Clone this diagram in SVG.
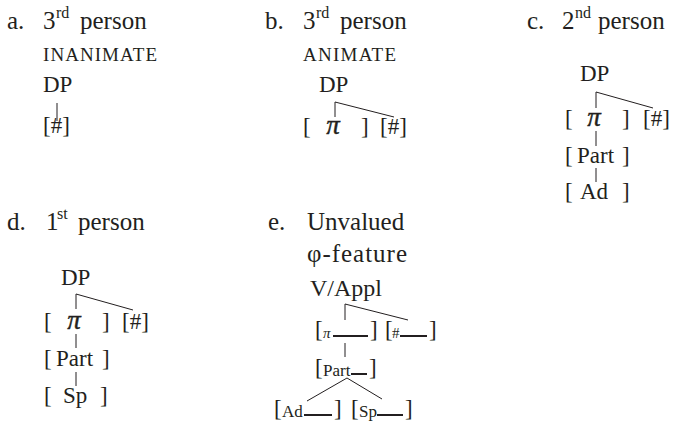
<svg xmlns="http://www.w3.org/2000/svg" width="675" height="423" viewBox="0 0 675 423">
<style>
text{font-family:"Liberation Serif","Times New Roman",serif;fill:#231f20;font-size:23px}
.h{font-size:25px}
.sup{font-size:16px}
.sc{font-size:19px}
.sm{font-size:17px}
.xs{font-size:15px}
.pi{font-style:italic}
.bp{font-style:italic;font-size:27px;stroke:#231f20;stroke-width:0.4}
.ln{stroke:#231f20;stroke-width:1;fill:none}
.bar{stroke:#231f20;stroke-width:2;fill:none}
</style>
<rect width="675" height="423" fill="#fff"/>
<g id="connectors">
<path class="ln" d="M57 103V121"/>
<path class="ln" d="M335 102V117M335 102L394 117"/>
<path class="ln" d="M596 92V108M596 92L653 108M596 131V146M596 168V182"/>
<path class="ln" d="M76 294V309M76 294L133 310M76 334V348M76 372V386"/>
<path class="ln" d="M345 304V320M345 304L408 320M345 343V357M347 378L307 401M347 378L382 399"/>
</g>
<g id="a-title"><text class="h" x="7" y="29">a.</text><text class="h" x="43" y="29">3</text><text class="sup" x="56" y="18">rd</text><text class="h" x="80" y="29">person</text></g>
<g id="a-inanimate"><text class="sc" x="43" y="61" textLength="114">INANIMATE</text></g>
<g id="a-dp"><text x="43" y="92">DP</text></g>
<g id="a-num"><text x="43" y="133">[#]</text></g>

<g id="b-title"><text class="h" x="265" y="29">b.</text><text class="h" x="303" y="29">3</text><text class="sup" x="316" y="18">rd</text><text class="h" x="340" y="29">person</text></g>
<g id="b-animate"><text class="sc" x="303" y="61" textLength="93">ANIMATE</text></g>
<g id="b-dp"><text x="319" y="92">DP</text></g>
<g id="b-pi"><text x="303" y="134">[</text><text class="bp" x="333" y="134" text-anchor="middle">π</text><text x="361" y="134">]</text></g>
<g id="b-num"><text x="380" y="134">[#]</text></g>

<g id="c-title"><text class="h" x="527" y="29">c.</text><text class="h" x="562" y="29">2</text><text class="sup" x="575" y="18">nd</text><text class="h" x="598" y="29">person</text></g>
<g id="c-dp"><text x="580" y="81">DP</text></g>
<g id="c-pi"><text x="565" y="126">[</text><text class="bp" x="594" y="126" text-anchor="middle">π</text><text x="622" y="126">]</text></g>
<g id="c-num"><text x="643" y="126">[#]</text></g>
<g id="c-part"><text x="565" y="163">[</text><text x="577" y="163">Part</text><text x="622" y="163">]</text></g>
<g id="c-ad"><text x="565" y="199">[</text><text x="580" y="199">Ad</text><text x="622" y="199">]</text></g>

<g id="d-title"><text class="h" x="7" y="230">d.</text><text class="h" x="46" y="230">1</text><text class="sup" x="57" y="219">st</text><text class="h" x="78" y="230">person</text></g>
<g id="d-dp"><text x="61" y="285">DP</text></g>
<g id="d-pi"><text x="44" y="329">[</text><text class="bp" x="74" y="329" text-anchor="middle">π</text><text x="102" y="329">]</text></g>
<g id="d-num"><text x="122" y="329">[#]</text></g>
<g id="d-part"><text x="44" y="366">[</text><text x="56" y="366">Part</text><text x="102" y="366">]</text></g>
<g id="d-sp"><text x="44" y="403">[</text><text x="63" y="403">Sp</text><text x="100" y="403">]</text></g>

<g id="e-title"><text class="h" x="268" y="230">e.</text><text class="h" x="307" y="230">Unvalued</text><text class="h" x="307" y="262" textLength="100">φ-feature</text></g>
<g id="e-v"><text x="310" y="296" style="font-size:24px">V/Appl</text></g>
<g id="e-pi"><text x="315" y="337">[</text><text class="xs pi" x="323" y="338">π</text><path class="bar" d="M333 336H368"/><text x="370" y="337">]</text></g>
<g id="e-num"><text x="385" y="337">[</text><text class="xs" x="392" y="338">#</text><path class="bar" d="M400 336H427"/><text x="429" y="337">]</text></g>
<g id="e-part"><text x="315" y="375">[</text><text class="sm" x="323" y="376">Part</text><path class="bar" d="M351 374H367"/><text x="369" y="375">]</text></g>
<g id="e-ad"><text x="274" y="416">[</text><text class="sm" x="282" y="417">Ad</text><path class="bar" d="M304 415H332"/><text x="334" y="416">]</text></g>
<g id="e-sp"><text x="351" y="416">[</text><text class="sm" x="359" y="417">Sp</text><path class="bar" d="M377 415H403"/><text x="405" y="416">]</text></g>
</svg>
